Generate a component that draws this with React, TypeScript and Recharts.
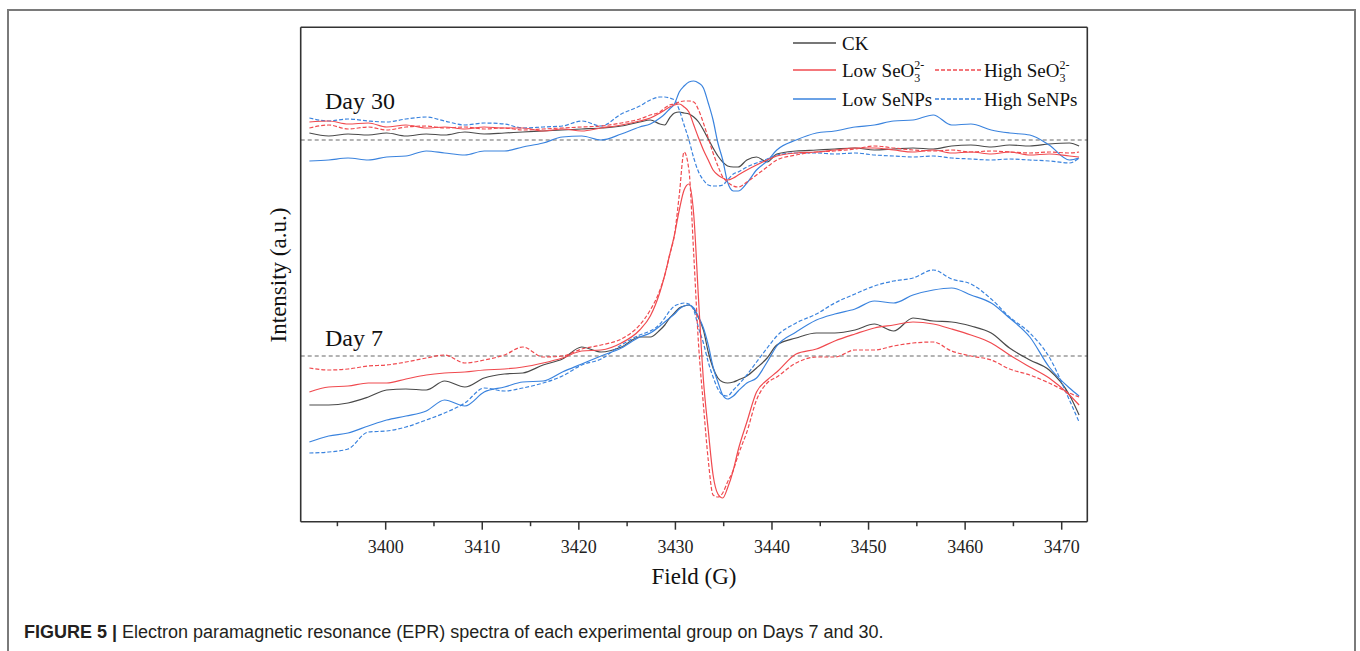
import React from 'react';
import { LineChart, Line, XAxis, YAxis, ReferenceLine } from 'recharts';

// magnetic field (G)
const fieldG = [
  3392.1, 3394.1, 3396.1, 3398.2, 3400.1, 3402.1, 3404.2, 3406.1, 3408.2, 3410.2, 3412.3, 3414.2, 3416.3, 3418.3, 3420.3, 3422.3, 3424.4, 3426.3,
  3427.4, 3428.4, 3428.9, 3429.4, 3429.9, 3430.4, 3430.9, 3431.4, 3431.9, 3432.4, 3432.9, 3433.4, 3433.9, 3434.4, 3434.9, 3435.4, 3436.0, 3436.5,
  3437.4, 3438.4, 3439.5, 3440.5,
  3442.5, 3444.6, 3446.5, 3448.6, 3450.6, 3452.6, 3454.6, 3456.7, 3458.6, 3460.6, 3462.7, 3464.6, 3466.7, 3468.7, 3470.8, 3471.8,
];
const fieldTicks = [3395, 3400, 3405, 3410, 3415, 3420, 3425, 3430, 3435, 3440, 3445, 3450, 3455, 3460, 3465, 3470];

// Day 7 spectra (a.u., relative to the Day 7 baseline)
const ck7 = [
  -49, -49, -47, -41, -34, -33, -34, -25, -31, -22, -18, -17, -9, -3, 9, 4, 9, 19,
  19, 26, 31, 38, 43, 48, 50, 51, 47, 38, 26, 4, -12, -22, -26, -27, -26, -24,
  -20, -12, -2, 11,
  18, 23, 23, 26, 32, 25, 38, 35, 34, 30, 23, 8, -4, -14, -39, -59,
];
const lowSe7 = [
  -36, -31, -30, -27, -27, -23, -19, -17, -16, -14, -13, -11, -7, -2, 5, 6, 13, 26,
  40, 64, 81, 101, 121, 146, 166, 172, 141, 56, -24, -74, -119, -138, -142, -132, -114, -94,
  -66, -36, -24, -16,
  2, 7, 15, 22, 28, 31, 34, 32, 27, 21, 13, 1, -11, -22, -39, -49,
];
const highSe7 = [
  -12, -14, -13, -10, -9, -6, -2, 1, -7, -4, 1, 9, -1, 0, 7, 11, 17, 31,
  46, 66, 81, 101, 121, 161, 204, 186, 101, 11, -49, -104, -139, -141, -137, -126, -114, -99,
  -76, -44, -27, -21,
  -7, -1, -1, 6, 6, 10, 13, 14, 5, 0, -4, -13, -19, -27, -37, -41,
];
const lowNp7 = [
  -86, -80, -77, -70, -64, -60, -55, -44, -50, -36, -31, -26, -25, -16, -8, 0, 8, 19,
  23, 30, 34, 38, 42, 47, 50, 51, 48, 39, 28, 11, -11, -26, -39, -43, -40, -35,
  -27, -22, -6, 10,
  24, 36, 42, 47, 55, 53, 61, 66, 68, 61, 53, 38, 19, -11, -32, -40,
];
const highNp7 = [
  -97, -96, -93, -76, -75, -71, -64, -57, -47, -32, -35, -32, -27, -20, -9, -3, 11, 21,
  25, 32, 38, 45, 50, 52, 53, 52, 46, 28, 13, -6, -21, -33, -39, -40, -34, -29,
  -19, -6, 8, 20,
  33, 42, 53, 62, 70, 75, 78, 86, 77, 72, 57, 39, 23, -1, -44, -66,
];

// Day 30 spectra (a.u., relative to the Day 30 baseline)
const ck30 = [
  7, 4, 6, 5, 7, 4, 6, 5, 8, 6, 7, 8, 9, 10, 11, 12, 14, 18,
  20, 16, 15, 22, 27, 28, 27, 26, 23, 18, 10, 1, -8, -16, -22, -26, -27, -27,
  -20, -17, -22, -14,
  -11, -10, -9, -8, -10, -9, -8, -9, -6, -5, -7, -5, -6, -4, -3, -6,
];
const lowSe30 = [
  18, 19, 16, 17, 13, 15, 12, 13, 11, 13, 12, 12, 9, 11, 9, 12, 15, 19,
  22, 27, 30, 33, 35, 36, 33, 28, 15, 2, -10, -20, -30, -35, -38, -40, -38, -35,
  -30, -25, -20, -16,
  -13, -12, -10, -8, -8, -10, -12, -10, -13, -12, -14, -12, -15, -14, -16, -17,
];
const highSe30 = [
  12, 15, 11, 13, 10, 13, 14, 12, 13, 11, 12, 10, 11, 12, 13, 14, 17, 21,
  25, 28, 32, 35, 36, 38, 39, 39, 38, 30, 17, 2, -13, -26, -37, -42, -46, -47,
  -42, -35, -27, -20,
  -15, -12, -11, -9, -6, -8, -10, -11, -10, -12, -11, -12, -13, -12, -13, -12,
];
const lowNp30 = [
  -21, -20, -18, -20, -17, -16, -11, -13, -15, -11, -11, -7, -3, 3, 4, 0, 6, 13,
  16, 22, 26, 31, 36, 48, 54, 58, 59, 57, 52, 37, 20, -3, -20, -42, -51, -51,
  -43, -30, -21, -10,
  0, 7, 9, 13, 15, 19, 20, 25, 15, 16, 10, 7, 5, -5, -20, -18,
];
const highNp30 = [
  22, 19, 21, 19, 18, 21, 23, 19, 15, 17, 16, 12, 13, 14, 19, 14, 26, 34,
  40, 43, 43, 42, 40, 30, 15, 0, -18, -32, -40, -45, -46, -46, -45, -40, -34, -32,
  -27, -23, -19, -15,
  -13, -13, -14, -13, -15, -16, -17, -16, -18, -19, -20, -19, -20, -21, -23, -18,
];

const DAY30_OFFSET = 216;

const SERIF = '"Liberation Serif", "Times New Roman", serif';
const SANS = '"Liberation Sans", Arial, Helvetica, sans-serif';
const RED = '#f04a4f';
const BLUE = '#3a83de';
const GREY = '#4a4a4a';
const AXIS = '#333';

const groups = [
  { id: 'ck', color: GREY, dash: undefined, day7: ck7, day30: ck30 },
  { id: 'lowNp', color: BLUE, dash: undefined, day7: lowNp7, day30: lowNp30 },
  { id: 'highNp', color: BLUE, dash: '4 2', day7: highNp7, day30: highNp30 },
  { id: 'lowSe', color: RED, dash: undefined, day7: lowSe7, day30: lowSe30 },
  { id: 'highSe', color: RED, dash: '4 2', day7: highSe7, day30: highSe30 },
];

const rows = fieldG.map((field, i) => {
  const r: Record<string, number> = { field };
  groups.forEach((g) => {
    r[g.id + '7'] = g.day7[i];
    r[g.id + '30'] = g.day30[i] + DAY30_OFFSET;
  });
  return r;
});

const xDomain: [number, number] = [3391.2, 3472.65];
const yDomain: [number, number] = [-165.7, 328.7];

const FieldTick = (props: any) => {
  const { x, y, payload } = props;
  const major = payload.value % 10 === 0;
  return (
    <g>
      <line x1={x} x2={x} y1={y} y2={y + (major ? 8 : 4.5)} stroke={AXIS} strokeWidth={1.5} />
      {major && (
        <text x={x} y={y + 31.5} textAnchor="middle" fontSize={18} fill="#222" fontFamily={SERIF}>
          {payload.value}
        </text>
      )}
    </g>
  );
};

const SeO3 = ({ x, y, label }: { x: number; y: number; label: string }) => (
  <text x={x} y={y} fontSize={19} fontFamily={SERIF} fill="#111">
    {label} SeO
    <tspan dy={5} fontSize={12}>3</tspan>
    <tspan dx={-6} dy={-13} fontSize={12}>2-</tspan>
  </text>
);

const LegendLine = ({ x1, x2, y, color, dash }: any) => (
  <line x1={x1} x2={x2} y1={y} y2={y} stroke={color} strokeWidth={1.3} strokeDasharray={dash} />
);

export default function App() {
  return (
    <div style={{ position: 'absolute', left: 0, top: 0, width: 1360, height: 651, background: '#fff', overflow: 'hidden' }}>
      <div
        style={{
          position: 'absolute', left: 7, top: 9, width: 1349, height: 700,
          border: '2px solid #7a7a7a', boxSizing: 'border-box',
        }}
      />
      <div style={{ position: 'absolute', left: 0, top: 0 }}>
        <LineChart width={1360} height={651} data={rows} margin={{ top: 26.3, right: 271.7, bottom: 69.3, left: 299.7 }}>
          <XAxis
            dataKey="field" type="number" domain={xDomain} allowDataOverflow
            ticks={fieldTicks} interval={0} tickSize={0} tickMargin={0} tickLine={false}
            tick={(p: any) => <FieldTick {...p} />}
            height={60} axisLine={{ stroke: AXIS, strokeWidth: 1.6 }}
          />
          <XAxis
            xAxisId="top" orientation="top" dataKey="field" type="number" domain={xDomain} allowDataOverflow
            height={1} tick={false} tickLine={false} axisLine={{ stroke: AXIS, strokeWidth: 1.6 }}
          />
          <YAxis
            type="number" domain={yDomain} allowDataOverflow width={1}
            tick={false} tickLine={false} axisLine={{ stroke: AXIS, strokeWidth: 1.6 }}
          />
          <YAxis
            yAxisId="right" orientation="right" type="number" domain={yDomain} allowDataOverflow width={1}
            tick={false} tickLine={false} axisLine={{ stroke: AXIS, strokeWidth: 1.6 }}
          />
          <ReferenceLine y={0} stroke="#9a9a9a" strokeWidth={1.3} strokeDasharray="4 3" />
          <ReferenceLine y={DAY30_OFFSET} stroke="#9a9a9a" strokeWidth={1.3} strokeDasharray="4 3" />
          {groups.flatMap((g) =>
            ['30', '7'].map((d) => (
              <Line
                key={g.id + d}
                dataKey={g.id + d}
                type="monotone"
                stroke={g.color}
                strokeWidth={1.2}
                strokeDasharray={g.dash}
                dot={false}
                activeDot={false}
                isAnimationActive={false}
              />
            ))
          )}
        </LineChart>
      </div>
      <svg width={1360} height={651} style={{ position: 'absolute', left: 0, top: 0, pointerEvents: 'none' }}>
        <text x={325} y={109} fontSize={24} fontFamily={SERIF} fill="#111">Day 30</text>
        <text x={325} y={346} fontSize={24} fontFamily={SERIF} fill="#111">Day 7</text>
        <text x={694} y={584} fontSize={23} fontFamily={SERIF} fill="#111" textAnchor="middle">Field (G)</text>
        <text
          x={286} y={275} fontSize={23} fontFamily={SERIF} fill="#111" textAnchor="middle"
          transform="rotate(-90 286 275)"
        >
          Intensity (a.u.)
        </text>

        <LegendLine x1={793} x2={836} y={43} color={GREY} />
        <text x={842} y={50} fontSize={19} fontFamily={SERIF} fill="#111">CK</text>

        <LegendLine x1={793} x2={836} y={70} color={RED} />
        <SeO3 x={842} y={77} label="Low" />
        <LegendLine x1={935} x2={982} y={70} color={RED} dash="4 2" />
        <SeO3 x={984} y={77} label="High" />

        <LegendLine x1={793} x2={836} y={99} color={BLUE} />
        <text x={842} y={106} fontSize={19} fontFamily={SERIF} fill="#111">Low SeNPs</text>
        <LegendLine x1={935} x2={982} y={99} color={BLUE} dash="4 2" />
        <text x={984} y={106} fontSize={19} fontFamily={SERIF} fill="#111">High SeNPs</text>

        <text x={24} y={638} fontSize={18} fontFamily={SANS} fill="#231f20">
          <tspan fontWeight="bold">FIGURE 5 |</tspan>
          {' Electron paramagnetic resonance (EPR) spectra of each experimental group on Days 7 and 30.'}
        </text>
      </svg>
    </div>
  );
}
